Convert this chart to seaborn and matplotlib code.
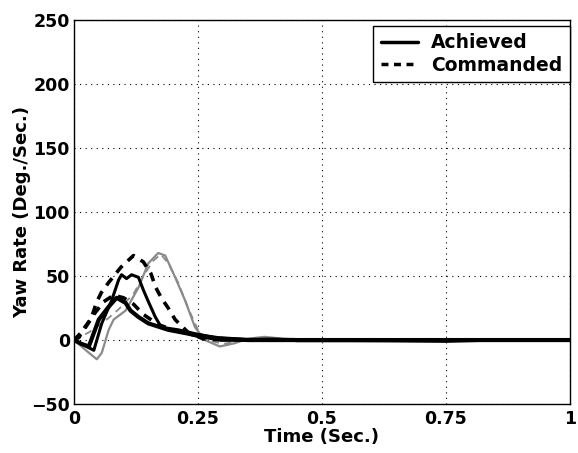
import numpy as np
import pandas as pd
import matplotlib
matplotlib.use("Agg")
import matplotlib.pyplot as plt
import seaborn as sns
from matplotlib.lines import Line2D

# ---- data ----
# Pair A (thick black): commanded peak ~67, achieved peak ~52
t_cmd_a = [0, 0.01, 0.02, 0.035, 0.045, 0.055, 0.07, 0.095, 0.12, 0.14, 0.155, 0.165, 0.176, 0.19, 0.204, 0.23, 0.26, 0.3, 0.5, 0.75, 1.0]
v_cmd_a = [0, 2, 9, 17, 29, 37, 45, 57, 66, 61, 52, 41, 33, 25, 16, 6, 1, 0, 0, 0, 0]
t_ach_a = [0, 0.02, 0.04, 0.056, 0.076, 0.09, 0.096, 0.106, 0.116, 0.13, 0.14, 0.15, 0.164, 0.176, 0.21, 0.244, 0.29, 0.35, 0.4, 0.5, 0.6, 0.75, 0.85, 1.0]
v_ach_a = [0, -4, -8, 13, 31, 47, 51, 48, 51, 49, 39, 30, 18, 10, 8, 5, 1.5, 0.5, 0.8, 0, -0.5, -1, 0, 0]

# Pair B (thick black): peak ~33
t_cmd_b = [0, 0.02, 0.04, 0.06, 0.08, 0.1, 0.12, 0.14, 0.17, 0.2, 0.25, 0.3, 0.5, 1.0]
v_cmd_b = [0, 8, 20, 30, 35, 33, 28, 20, 12, 8, 3, 0, 0, 0]
t_ach_b = [0, 0.015, 0.03, 0.05, 0.07, 0.086, 0.104, 0.114, 0.13, 0.15, 0.19, 0.244, 0.29, 0.35, 0.5, 0.75, 1.0]
v_ach_b = [0, -3, -5, 16, 26, 33, 29, 23, 18, 13, 8, 4, 1.5, 0, 0, 0, 0]

# Pair C (thin gray): achieved peak ~68
t_cmd_c = [0, 0.03, 0.06, 0.09, 0.12, 0.14, 0.16, 0.175, 0.19, 0.21, 0.23, 0.25, 0.27, 0.3, 0.35, 0.5, 1.0]
v_cmd_c = [0, 6, 14, 24, 36, 50, 62, 67, 60, 45, 25, 8, 0, -3, 0, 0, 0]
t_ach_c = [0, 0.024, 0.046, 0.056, 0.07, 0.08, 0.104, 0.13, 0.15, 0.17, 0.184, 0.204, 0.224, 0.244, 0.264, 0.294, 0.324, 0.35, 0.384, 0.41, 0.45, 0.5, 0.57, 0.75, 1.0]
v_ach_c = [0, -8, -15, -10, 8, 16, 23, 41, 60, 68, 66, 49, 31, 10, 0, -5, -2.5, 1, 2.5, 1.5, -1, -1, -1, 0, 0]

x_ticks = [0, 0.25, 0.5, 0.75, 1]
x_tick_labels = ["0", "0.25", "0.5", "0.75", "1"]
y_ticks = [-50, 0, 50, 100, 150, 200, 250]

sns.set_style("white")
plt.rcParams["font.family"] = ["DejaVu Sans"]
plt.rcParams["font.weight"] = "bold"
plt.rcParams["text.color"] = "black"
plt.rcParams["axes.labelcolor"] = "black"
plt.rcParams["xtick.color"] = "black"
plt.rcParams["ytick.color"] = "black"

fig = plt.figure(figsize=(5.78, 4.53), dpi=100)
ax = fig.add_axes([0.128, 0.108, 0.858, 0.848])

gray = "#8a8a8a"
sns.lineplot(x=t_ach_c, y=v_ach_c, ax=ax, color=gray, lw=1.6, legend=False, estimator=None, sort=False)
sns.lineplot(x=t_cmd_c, y=v_cmd_c, ax=ax, color=gray, lw=1.3, linestyle=(0, (4, 3)), legend=False, estimator=None, sort=False)
sns.lineplot(x=t_cmd_b, y=v_cmd_b, ax=ax, color="black", lw=2.6, linestyle=(0, (2.5, 2)), legend=False, estimator=None, sort=False)
sns.lineplot(x=t_ach_b, y=v_ach_b, ax=ax, color="black", lw=3.0, legend=False, estimator=None, sort=False)
sns.lineplot(x=t_cmd_a, y=v_cmd_a, ax=ax, color="black", lw=2.6, linestyle=(0, (2.5, 2)), legend=False, estimator=None, sort=False)
sns.lineplot(x=t_ach_a, y=v_ach_a, ax=ax, color="black", lw=2.2, legend=False, estimator=None, sort=False)

ax.set_xlim(0, 1)
ax.set_ylim(-50, 250)
ax.set_xticks(x_ticks)
ax.set_xticklabels(x_tick_labels)
ax.set_yticks(y_ticks)
ax.grid(True, linestyle=(0, (1, 4)), color="black", linewidth=0.8)
for s in ax.spines.values():
    s.set_visible(True)
    s.set_color("black")
    s.set_linewidth(1.0)
ax.tick_params(direction="in", length=4, labelsize=12.5, colors="black", labelcolor="black")
ax.tick_params(axis="x", pad=4)
ax.tick_params(axis="y", pad=3)
for lab in ax.get_xticklabels() + ax.get_yticklabels():
    lab.set_fontweight("bold")

ax.set_xlabel("Time (Sec.)", fontsize=13, fontweight="bold", labelpad=0, color="black")
ax.set_ylabel("Yaw Rate (Deg./Sec.)", fontsize=13, fontweight="bold", labelpad=0, color="black")

handles = [Line2D([], [], color="black", lw=2.5),
           Line2D([], [], color="black", lw=2.5, linestyle=(0, (2, 1.6)))]
leg = ax.legend(handles, ["Achieved", "Commanded"], loc="upper right",
                bbox_to_anchor=(1.0, 0.985),
                prop={"size": 13.5, "weight": "bold"}, fancybox=False,
                edgecolor="black", framealpha=1, borderaxespad=0,
                handlelength=2.0, borderpad=0.4, labelspacing=0.2, handletextpad=0.7)
leg.get_frame().set_linewidth(1.0)
for txt in leg.get_texts():
    txt.set_color("black")

fig.savefig("out.png", dpi=100)
